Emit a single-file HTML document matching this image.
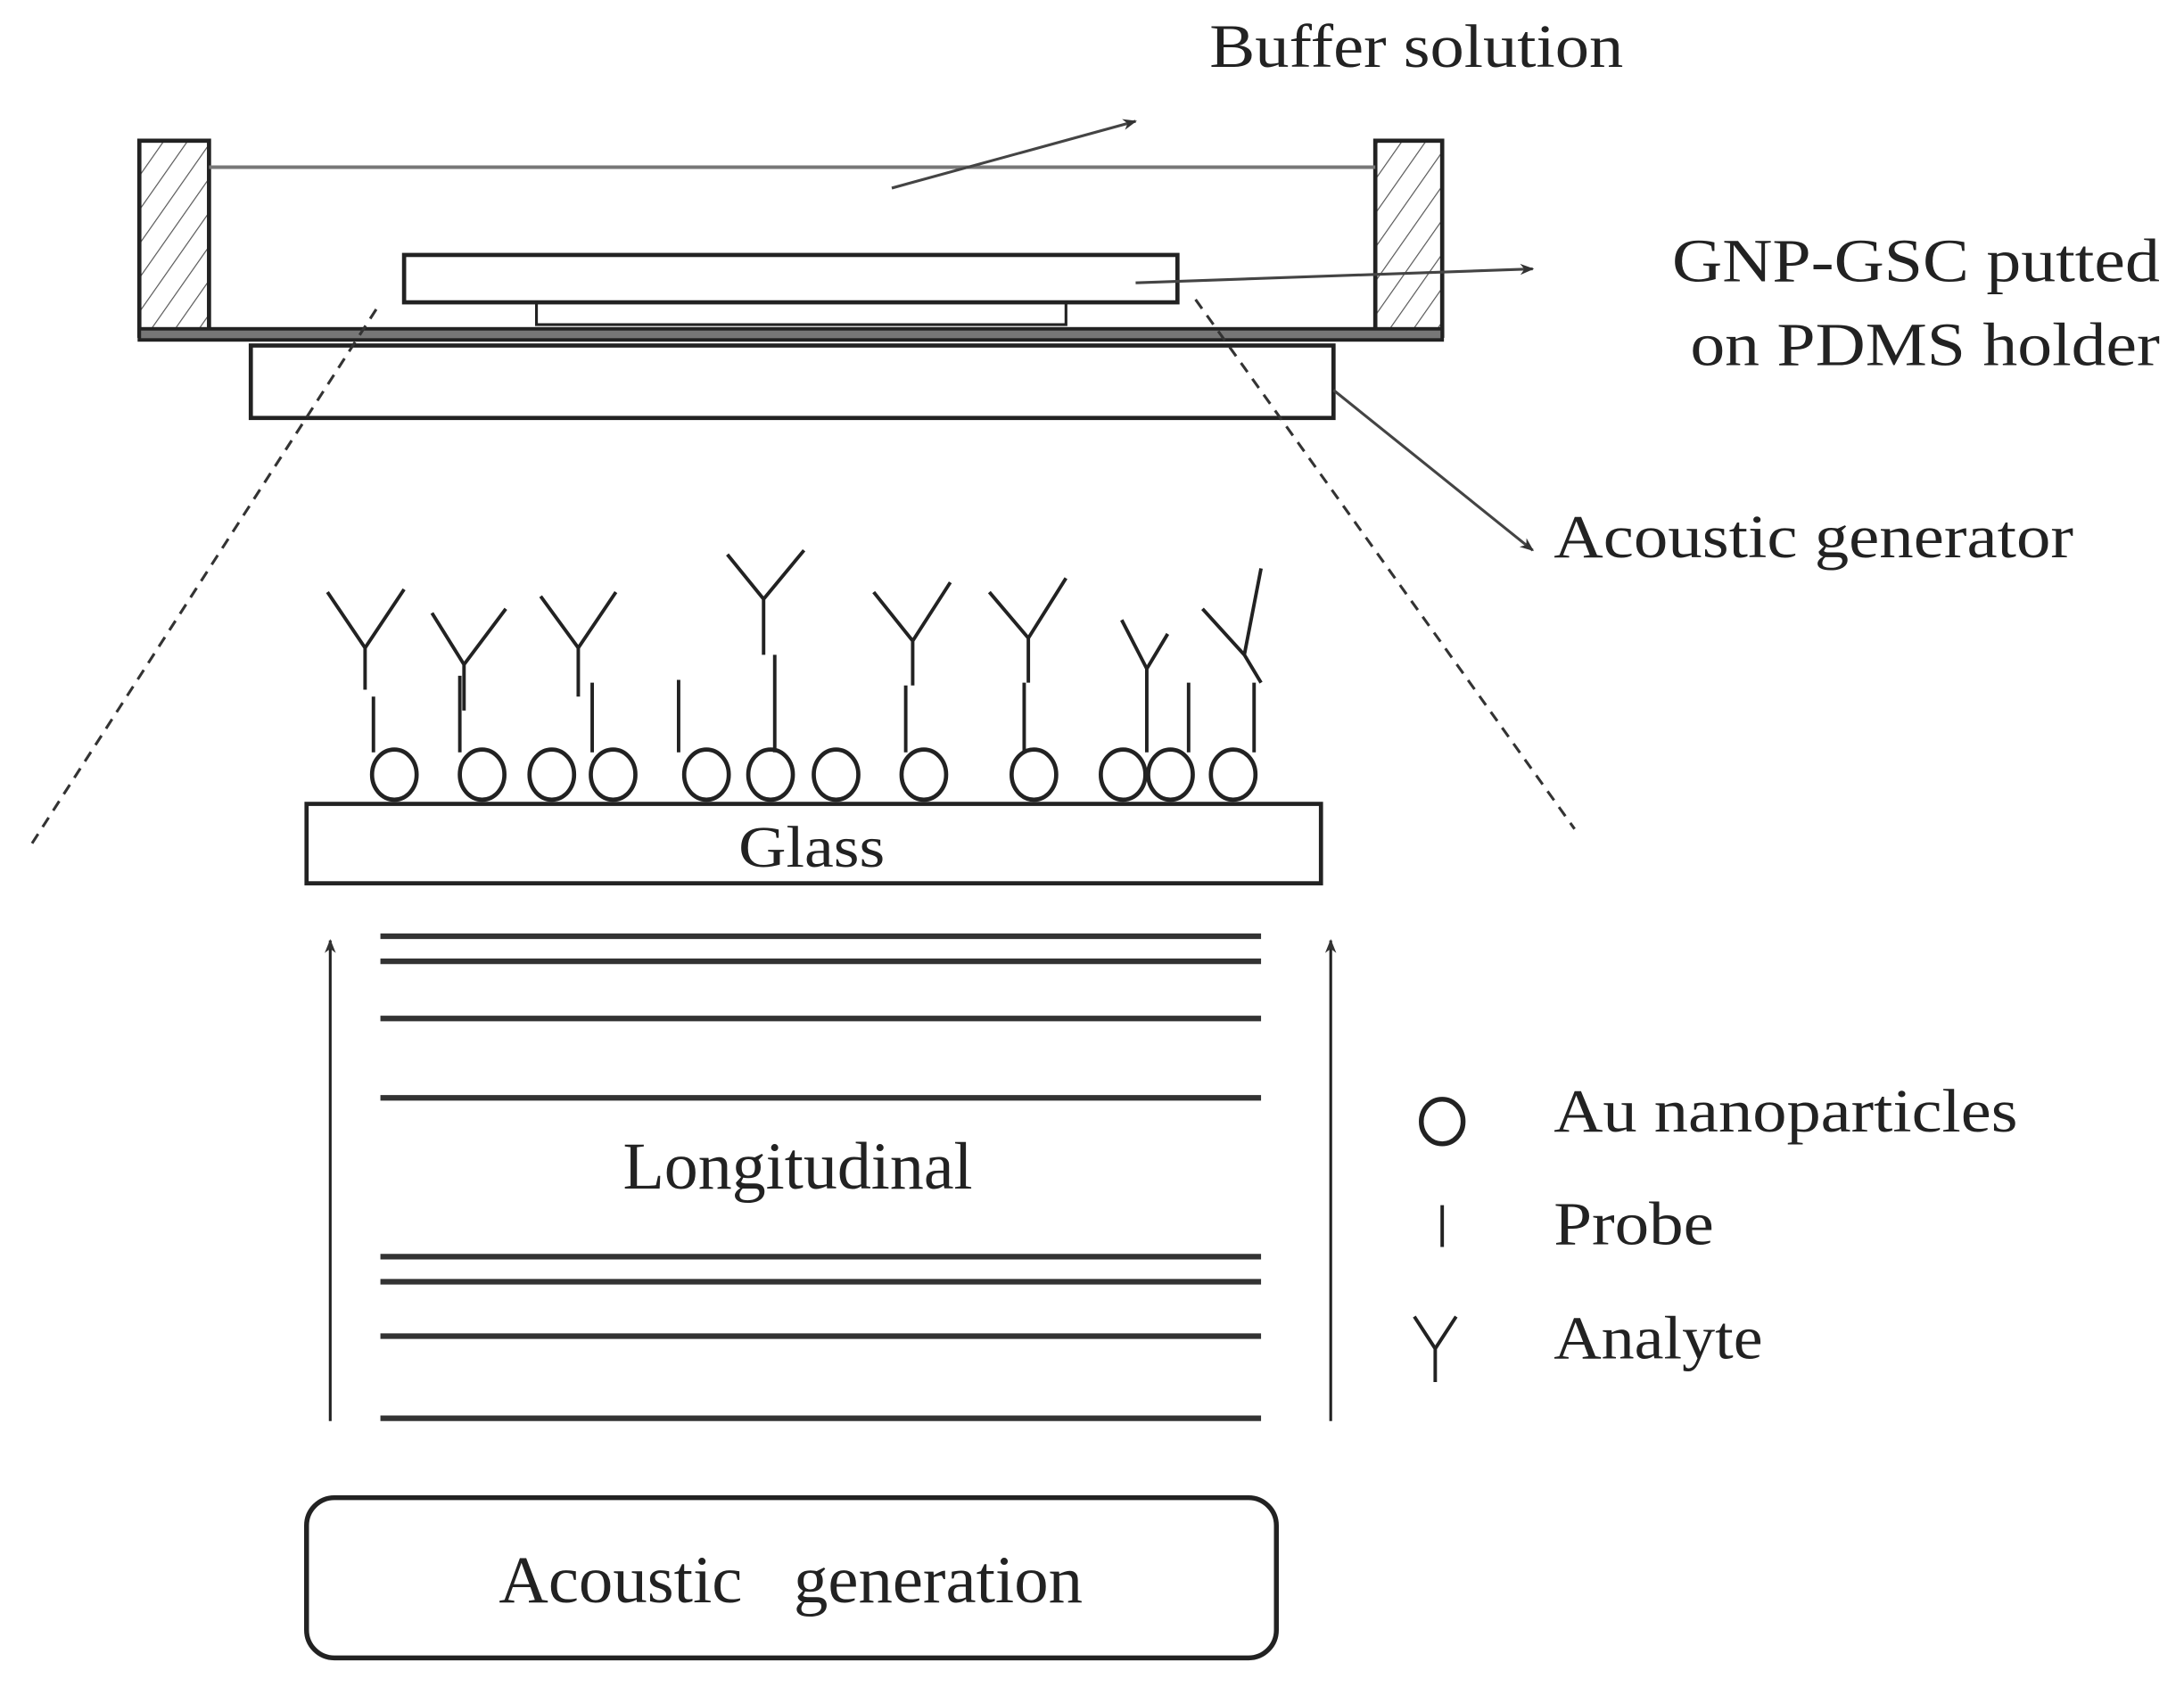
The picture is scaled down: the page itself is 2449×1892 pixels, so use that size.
<!DOCTYPE html>
<html><head><meta charset="utf-8"><style>html,body{margin:0;padding:0;background:#fff}svg{display:block}</style></head>
<body>
<svg width="2449" height="1892" viewBox="0 0 1567.36 1210.88" xmlns="http://www.w3.org/2000/svg" font-family="Liberation Serif, serif" fill="none" stroke="#222">
<defs>
<pattern id="h" width="14" height="14" patternUnits="userSpaceOnUse" patternTransform="rotate(35)">
<line x1="0" y1="0" x2="0" y2="14" stroke="#555" stroke-width="1.5"/></pattern>
<marker id="a" markerWidth="10" markerHeight="10" refX="9" refY="5" orient="auto" markerUnits="userSpaceOnUse"><path d="M0,1 L10,5 L0,9 L3,5 Z" fill="#333" stroke="none"/></marker>
</defs>
<rect x="100" y="101" width="50" height="140" fill="url(#h)" stroke-width="3"/>
<rect x="987" y="101" width="48" height="140" fill="url(#h)" stroke-width="3"/>
<line x1="150" y1="120" x2="987" y2="120" stroke="#777" stroke-width="2.5"/>
<rect x="100" y="236" width="935" height="8" fill="#777" stroke-width="2.5"/>
<rect x="290" y="183" width="555" height="34" stroke-width="3"/>
<rect x="385" y="217" width="380" height="16" stroke-width="2"/>
<rect x="180" y="248" width="777" height="52" stroke-width="3"/>
<line x1="640" y1="135" x2="815" y2="87" stroke="#444" stroke-width="2" marker-end="url(#a)"/>
<line x1="815" y1="203" x2="1100" y2="193" stroke="#444" stroke-width="2" marker-end="url(#a)"/>
<line x1="957" y1="280" x2="1100" y2="395" stroke="#444" stroke-width="2" marker-end="url(#a)"/>
<line x1="270" y1="222" x2="20" y2="610" stroke="#333" stroke-width="2" stroke-dasharray="8,6"/>
<line x1="858" y1="215" x2="1130" y2="595" stroke="#333" stroke-width="2" stroke-dasharray="8,6"/>
<g fill="#222" stroke="none" font-size="44">
<text x="868" y="48" textLength="297" lengthAdjust="spacingAndGlyphs">Buffer solution</text>
<text x="1200" y="202" textLength="350" lengthAdjust="spacingAndGlyphs">GNP-GSC putted</text>
<text x="1213" y="262" textLength="337" lengthAdjust="spacingAndGlyphs">on PDMS holder</text>
<text x="1115" y="400" textLength="373" lengthAdjust="spacingAndGlyphs">Acoustic  generator</text>
</g>
<rect x="220" y="577" width="728" height="57" stroke-width="3"/>
<text x="530" y="622" font-size="42" textLength="105" lengthAdjust="spacingAndGlyphs" fill="#222" stroke="none">Glass</text>
<g stroke-width="3">
<ellipse cx="283" cy="556" rx="16" ry="18"/><ellipse cx="346" cy="556" rx="16" ry="18"/>
<ellipse cx="396" cy="556" rx="16" ry="18"/><ellipse cx="440" cy="556" rx="16" ry="18"/>
<ellipse cx="507" cy="556" rx="16" ry="18"/><ellipse cx="553" cy="556" rx="16" ry="18"/>
<ellipse cx="600" cy="556" rx="16" ry="18"/><ellipse cx="663" cy="556" rx="16" ry="18"/>
<ellipse cx="742" cy="556" rx="16" ry="18"/><ellipse cx="806" cy="556" rx="16" ry="18"/>
<ellipse cx="840" cy="556" rx="16" ry="18"/><ellipse cx="885" cy="556" rx="16" ry="18"/>
</g>
<g stroke-width="2.5">
<path d="M235,425 L262,465 L290,423 M262,465 V495 M268,500 V540"/>
<path d="M310,440 L333,477 L363,437 M333,477 V510 M330,485 V540"/>
<path d="M388,428 L415,465 L442,425 M415,465 V500 M425,490 V540"/>
<path d="M487,488 V540"/>
<path d="M522,398 L548,430 L577,395 M548,430 V470 M556,470 V540"/>
<path d="M627,425 L655,460 L682,418 M655,460 V492 M650,492 V540"/>
<path d="M710,425 L738,458 L765,415 M738,458 V490 M735,490 V540"/>
<path d="M805,445 L823,480 L838,455 M823,480 V540 M853,490 V540"/>
<path d="M863,437 L893,470 L905,490 M905,408 L893,470 M900,490 V540"/>
</g>
<line x1="237" y1="1020" x2="237" y2="675" stroke-width="2" marker-end="url(#a)"/>
<line x1="955" y1="1020" x2="955" y2="675" stroke-width="2" marker-end="url(#a)"/>
<g stroke="#333" stroke-width="4">
<line x1="273" y1="672" x2="905" y2="672"/><line x1="273" y1="690" x2="905" y2="690"/>
<line x1="273" y1="731" x2="905" y2="731"/><line x1="273" y1="788" x2="905" y2="788"/>
<line x1="273" y1="902" x2="905" y2="902"/><line x1="273" y1="920" x2="905" y2="920"/>
<line x1="273" y1="959" x2="905" y2="959"/><line x1="273" y1="1018" x2="905" y2="1018"/>
</g>
<text x="447" y="853" font-size="48" textLength="251" lengthAdjust="spacingAndGlyphs" fill="#222" stroke="none">Longitudinal</text>
<ellipse cx="1035" cy="805" rx="15" ry="16" stroke-width="3.5"/>
<line x1="1035" y1="865" x2="1035" y2="895" stroke-width="2.5"/>
<path d="M1015,945 L1030,968 L1045,945 M1030,968 V992" stroke-width="2.5"/>
<g fill="#222" stroke="none" font-size="44">
<text x="1115" y="812" textLength="333" lengthAdjust="spacingAndGlyphs">Au nanoparticles</text>
<text x="1115" y="893" textLength="115" lengthAdjust="spacingAndGlyphs">Probe</text>
<text x="1115" y="975" textLength="150" lengthAdjust="spacingAndGlyphs">Analyte</text>
</g>
<rect x="220" y="1075" width="696" height="115" rx="20" stroke-width="3.5"/>
<text x="358" y="1150" font-size="48" textLength="419" lengthAdjust="spacingAndGlyphs" fill="#222" stroke="none" xml:space="preserve">Acoustic   generation</text>
</svg>
</body></html>
